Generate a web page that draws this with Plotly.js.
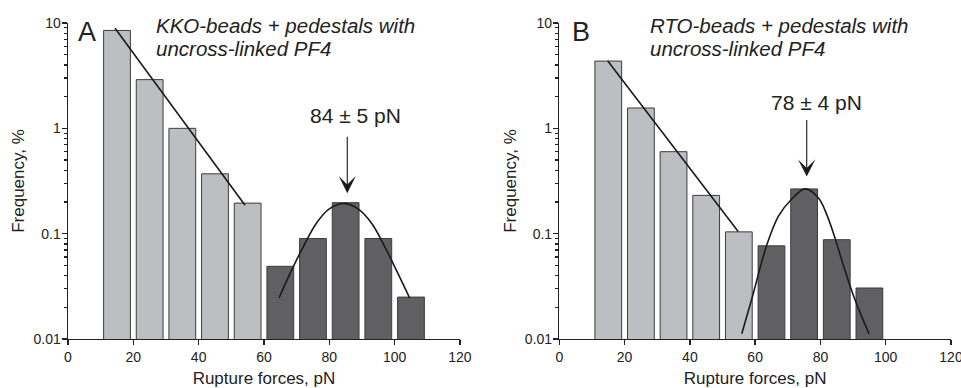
<!DOCTYPE html>
<html>
<head>
<meta charset="utf-8">
<script src="https://cdn.plot.ly/plotly-3.0.1.min.js"></script>
<style>html,body{margin:0;padding:0;background:#fff;}#chart{width:961px;height:388px;}</style>
</head>
<body>
<div id="chart"></div>
<script>
// ---- Panel A data (KKO-beads) ----
var lowA_x = [15, 25, 35, 45, 55];
var lowA_y = [8.5, 2.9, 1.0, 0.37, 0.195];
var highA_x = [65, 75, 85, 95, 105];
var highA_y = [0.049, 0.09, 0.197, 0.09, 0.025];
var fitLineA_x = [14.4, 54.2];
var fitLineA_y = [8.9, 0.186];
var gaussA_x = [64.6, 68, 72, 76, 80, 84.9, 89, 93, 97, 101, 104.6];
var gaussA_y = [0.0245, 0.042, 0.075, 0.125, 0.172, 0.193, 0.17, 0.125, 0.075, 0.042, 0.0245];

// ---- Panel B data (RTO-beads) ----
var lowB_x = [15, 25, 35, 45, 55];
var lowB_y = [4.35, 1.56, 0.60, 0.231, 0.104];
var highB_x = [65, 75, 85, 95];
var highB_y = [0.0767, 0.266, 0.0877, 0.0305];
var fitLineB_x = [14.8, 54.8];
var fitLineB_y = [4.39, 0.105];
var gaussB_x = [55.9, 58.9, 63.5, 67.1, 71.0, 75.3, 79.4, 82.0, 84.6, 87.5, 90.5, 94.9];
var gaussB_y = [0.0112, 0.0236, 0.0769, 0.146, 0.210, 0.266, 0.218, 0.150, 0.088, 0.045, 0.024, 0.0112];

// ---- Axis ticks and text ----
var yMajorTicks = [0.01, 0.1, 1, 10];
var yMajorLabels = ['0.01', '0.1', '1', '10'];
var yMinorTicks = [0.02, 0.03, 0.04, 0.05, 0.06, 0.07, 0.08, 0.09,
                   0.2, 0.3, 0.4, 0.5, 0.6, 0.7, 0.8, 0.9,
                   2, 3, 4, 5, 6, 7, 8, 9];
var xTitle = 'Rupture forces, pN';
var yTitle = 'Frequency, %';
var titleA = ['KKO-beads + pedestals with', 'uncross-linked PF4'];
var titleB = ['RTO-beads + pedestals with', 'uncross-linked PF4'];
var peakA = {label: '84 \u00B1 5 pN', x: 85.5, textX: 87.9};
var peakB = {label: '78 \u00B1 4 pN', x: 75.8, textX: 78.7};

var FONT = 'Liberation Sans, Arial, Helvetica, sans-serif';
var lightFill = '#bdbec1', darkFill = '#606062';
var AX = '#222';

function bars(x, y, fill, xa, ya) {
  return {type: 'bar', x: x, y: y, xaxis: xa, yaxis: ya, width: 8.2,
    marker: {color: fill, line: {color: '#3c3c3c', width: 1}}, hoverinfo: 'x+y'};
}
function curve(x, y, xa, ya, shape) {
  return {type: 'scatter', mode: 'lines', x: x, y: y, xaxis: xa, yaxis: ya,
    line: {color: '#1a1a1a', width: 1.6, shape: shape, smoothing: 1}};
}
function holder(xa, ya) {
  return {type: 'scatter', mode: 'markers', x: [null], y: [null], xaxis: xa, yaxis: ya,
    hoverinfo: 'skip', showlegend: false};
}

var data = [
  bars(lowA_x, lowA_y, lightFill, 'x', 'y'),
  bars(highA_x, highA_y, darkFill, 'x', 'y'),
  curve(fitLineA_x, fitLineA_y, 'x', 'y', 'linear'),
  curve(gaussA_x, gaussA_y, 'x', 'y', 'spline'),
  bars(lowB_x, lowB_y, lightFill, 'x2', 'y2'),
  bars(highB_x, highB_y, darkFill, 'x2', 'y2'),
  curve(fitLineB_x, fitLineB_y, 'x2', 'y2', 'linear'),
  curve(gaussB_x, gaussB_y, 'x2', 'y2', 'spline'),
  holder('x', 'y3'),
  holder('x2', 'y4')
];

// main y axis carries every tick (short) plus the labels; overlay axis lengthens the decade ticks
var yAllTicks = yMajorTicks.concat(yMinorTicks);
var yAllLabels = yMajorLabels.concat(yMinorTicks.map(function () { return ''; }));

function xaxisDef(domain, anchor) {
  return {domain: domain, anchor: anchor, range: [0, 120], tickmode: 'linear', tick0: 0, dtick: 20,
    ticks: 'outside', ticklen: 5, tickwidth: 1.4, tickcolor: AX, ticklabeloverflow: 'allow',
    showline: true, linecolor: AX, linewidth: 1.4, showgrid: false, zeroline: false,
    tickfont: {family: FONT, size: 14, color: '#222'},
    title: {text: xTitle, font: {family: FONT, size: 17, color: '#222'}, standoff: 11}};
}
function yaxisDef(anchor) {
  return {type: 'log', range: [-2, 1], anchor: anchor, domain: [0, 1],
    tickmode: 'array', tickvals: yAllTicks, ticktext: yAllLabels,
    ticks: 'outside', ticklen: 3, tickwidth: 1.3, tickcolor: AX,
    showline: true, linecolor: AX, linewidth: 1.4, showgrid: false, zeroline: false,
    tickfont: {family: FONT, size: 14, color: '#222'},
    title: {text: yTitle, font: {family: FONT, size: 17, color: '#222'}, standoff: 4}};
}
function yMajorDef(anchor, over) {
  return {type: 'log', range: [-2, 1], anchor: anchor, overlaying: over, side: 'left',
    tickmode: 'array', tickvals: yMajorTicks, showticklabels: false,
    ticks: 'outside', ticklen: 5, tickwidth: 1.4, tickcolor: AX,
    showline: false, showgrid: false, zeroline: false};
}

function yPaper(px) { return (339.3 - px) / 316.3; }

function txt(xref, x, ypx, text, size, anchor) {
  return {xref: xref, yref: 'paper', x: x, y: yPaper(ypx), text: text, showarrow: false,
    xanchor: anchor, yanchor: 'middle', font: {family: FONT, size: size, color: '#222'}};
}

var annotations = [
  txt('x', 2.4, 32, 'A', 27, 'left'),
  txt('x2', 3.3, 32, 'B', 27, 'left'),
  txt('x', 26.3, 25.8, '<i>' + titleA[0] + '</i>', 20.5, 'left'),
  txt('x', 26.3, 48.2, '<i>' + titleA[1] + '</i>', 20.5, 'left'),
  txt('x2', 27.3, 25.8, '<i>' + titleB[0] + '</i>', 20.5, 'left'),
  txt('x2', 27.3, 48.2, '<i>' + titleB[1] + '</i>', 20.5, 'left'),
  txt('x', peakA.textX, 115.8, peakA.label, 21, 'center'),
  txt('x2', peakB.textX, 102.2, peakB.label, 21, 'center'),
  {xref: 'x', yref: 'paper', x: peakA.x, y: yPaper(193.3), text: '', showarrow: true,
   ax: 0, ay: -58, arrowhead: 3, arrowsize: 2.6, arrowwidth: 1.1, arrowcolor: '#1a1a1a'},
  {xref: 'x2', yref: 'paper', x: peakB.x, y: yPaper(176.7), text: '', showarrow: true,
   ax: 0, ay: -58, arrowhead: 3, arrowsize: 2.6, arrowwidth: 1.1, arrowcolor: '#1a1a1a'}
];

var layout = {
  width: 961, height: 388,
  margin: {l: 68, r: 10, t: 23, b: 49},
  paper_bgcolor: '#fff', plot_bgcolor: '#fff',
  showlegend: false, barmode: 'overlay',
  font: {family: FONT, color: '#222'},
  xaxis: xaxisDef([0, 0.4439], 'y'),
  yaxis: yaxisDef('x'),
  xaxis2: xaxisDef([0.5564, 1.0], 'y2'),
  yaxis2: yaxisDef('x2'),
  yaxis3: yMajorDef('x', 'y'),
  yaxis4: yMajorDef('x2', 'y2'),
  annotations: annotations
};

Plotly.newPlot('chart', data, layout, {staticPlot: true, displayModeBar: false});
</script>
</body>
</html>
